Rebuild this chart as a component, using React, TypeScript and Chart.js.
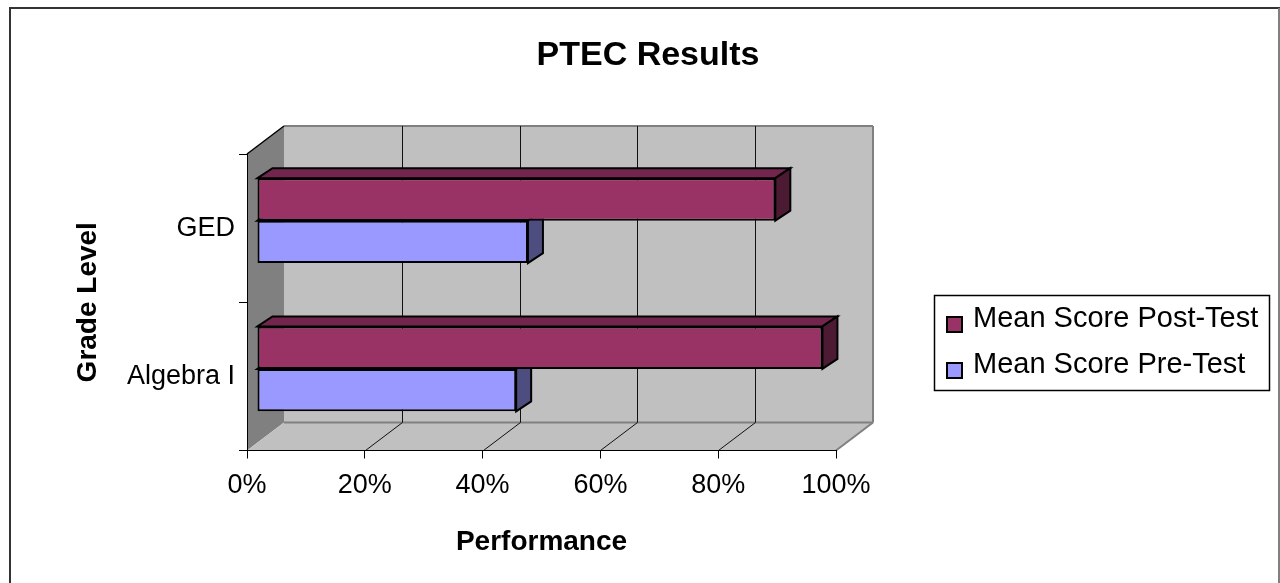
import React, { useEffect, useRef } from 'react';
import { Chart, registerables } from 'chart.js';

Chart.register(...registerables);

// ---------- data ----------
const categories = ['GED', 'Algebra I'];
const seriesLabels = ['Mean Score Post-Test', 'Mean Score Pre-Test'];
const postTestValues = [0.88, 0.96];
const preTestValues = [0.46, 0.44];
const xTickValues = [0, 0.2, 0.4, 0.6, 0.8, 1];
const xTickLabels = ['0%', '20%', '40%', '60%', '80%', '100%'];
const chartTitle = 'PTEC Results';
const xAxisTitle = 'Performance';
const yAxisTitle = 'Grade Level';

// ---------- styles ----------
const FONT = '"Liberation Sans", Arial, Helvetica, sans-serif';
const frontColors = ['#993366', '#9999ff'];
const topColors = ['#73264d', '#7373bf'];
const sideColors = ['#4d1a33', '#4d4d80'];
const WALL_D = { x: 37, y: -28 };
const BAR_OFF = { x: 10, y: -7.5 };
const BAR_D = { x: 15, y: -10 };

function poly(ctx: CanvasRenderingContext2D, pts: number[][], fill?: string, stroke?: string, lw = 1) {
  ctx.beginPath();
  ctx.moveTo(pts[0][0], pts[0][1]);
  for (let i = 1; i < pts.length; i++) ctx.lineTo(pts[i][0], pts[i][1]);
  ctx.closePath();
  if (fill) {
    ctx.fillStyle = fill;
    ctx.fill();
  }
  if (stroke) {
    ctx.strokeStyle = stroke;
    ctx.lineWidth = lw;
    ctx.lineJoin = 'miter';
    ctx.stroke();
  }
}

function line(ctx: CanvasRenderingContext2D, x1: number, y1: number, x2: number, y2: number) {
  ctx.beginPath();
  ctx.moveTo(x1, y1);
  ctx.lineTo(x2, y2);
  ctx.stroke();
}

const wallsPlugin = {
  id: 'walls3d',
  beforeDraw(chart: any) {
    const { ctx, chartArea } = chart;
    const { left, right, top, bottom } = chartArea;
    const xs = chart.scales.x;
    const dx = WALL_D.x;
    const dy = WALL_D.y;
    ctx.save();
    ctx.fillStyle = '#ffffff';
    ctx.fillRect(0, 0, chart.width, chart.height);
    // back wall
    ctx.fillStyle = '#c0c0c0';
    ctx.fillRect(left + dx, top + dy, right - left, bottom - top);
    // side wall
    poly(ctx, [[left, top], [left + dx, top + dy], [left + dx, bottom + dy], [left, bottom]], '#808080');
    // floor
    poly(ctx, [[left, bottom], [right, bottom], [right + dx, bottom + dy], [left + dx, bottom + dy]], '#c0c0c0');
    // gray edges
    ctx.strokeStyle = '#808080';
    ctx.lineWidth = 2;
    line(ctx, left + dx, top + dy, right + dx, top + dy);
    line(ctx, right + dx, top + dy, right + dx, bottom + dy);
    line(ctx, left + dx, bottom + dy, right + dx, bottom + dy);
    line(ctx, right, bottom, right + dx, bottom + dy);
    // grid lines on back wall and floor
    ctx.strokeStyle = '#111';
    ctx.lineWidth = 1;
    xTickValues.forEach((v) => {
      if (v === 0 || v === 1) return;
      const px = Math.round(xs.getPixelForValue(v)) + 0.5;
      line(ctx, px + dx, top + dy, px + dx, bottom + dy);
      line(ctx, px, bottom, px + dx, bottom + dy);
    });
    // side wall top edge
    ctx.strokeStyle = '#000';
    ctx.lineWidth = 1.5;
    line(ctx, left, top, left + dx, top + dy);
    ctx.restore();
  },
};

const bars3dPlugin = {
  id: 'bars3d',
  beforeDatasetsDraw(chart: any) {
    chart.ctx.save();
    chart.ctx.translate(BAR_OFF.x, BAR_OFF.y);
  },
  afterDatasetDraw(chart: any, args: any) {
    const ctx = chart.ctx;
    const idx = args.index;
    args.meta.data.forEach((bar: any) => {
      const { x, y, base, height } = bar.getProps(['x', 'y', 'base', 'height'], true);
      const l = Math.min(x, base);
      const r = Math.max(x, base);
      const t = y - height / 2;
      const b = y + height / 2;
      const dx = BAR_D.x;
      const dy = BAR_D.y;
      poly(ctx, [[l, t], [l + dx, t + dy], [r + dx, t + dy], [r, t]], topColors[idx], '#000', 2);
      poly(ctx, [[r, t], [r + dx, t + dy], [r + dx, b + dy], [r, b]], sideColors[idx], '#000', 2);
    });
  },
  afterDatasetsDraw(chart: any) {
    chart.ctx.restore();
  },
};

const legendFramePlugin = {
  id: 'legendFrame',
  afterDraw(chart: any) {
    const ctx = chart.ctx;
    ctx.save();
    // legend box
    ctx.strokeStyle = '#000';
    ctx.lineWidth = 1.5;
    ctx.strokeRect(934.5, 295.5, 335, 95);
    ctx.font = `29px ${FONT}`;
    ctx.textAlign = 'left';
    ctx.textBaseline = 'middle';
    chart.data.datasets.forEach((ds: any, i: number) => {
      const cy = 319 + i * 46;
      ctx.fillStyle = ds.backgroundColor;
      ctx.fillRect(947, cy - 2, 15, 15);
      ctx.strokeStyle = '#000';
      ctx.lineWidth = 2;
      ctx.strokeRect(947, cy - 2, 15, 15);
      ctx.fillStyle = '#000';
      ctx.fillText(ds.label, 973, cy);
    });
    // outer frame
    ctx.strokeStyle = '#333';
    ctx.lineWidth = 2;
    line(ctx, 10, 8, 10, 583);
    line(ctx, 9, 8, 1280, 8);
    ctx.strokeStyle = '#808080';
    line(ctx, 1279, 8, 1279, 583);
    ctx.restore();
  },
};

export default function App() {
  const canvasRef = useRef<HTMLCanvasElement | null>(null);

  useEffect(() => {
    if (!canvasRef.current) return;
    const chart = new Chart(canvasRef.current, {
      type: 'bar',
      data: {
        labels: categories,
        datasets: [
          {
            label: seriesLabels[0],
            data: postTestValues,
            backgroundColor: frontColors[0],
            borderColor: '#000',
            borderWidth: 2,
            borderSkipped: false,
            xAxisID: 'x',
            yAxisID: 'y',
          },
          {
            label: seriesLabels[1],
            data: preTestValues,
            backgroundColor: frontColors[1],
            borderColor: '#000',
            borderWidth: 2,
            borderSkipped: false,
            xAxisID: 'x',
            yAxisID: 'y',
          },
        ],
      },
      options: {
        indexAxis: 'y',
        responsive: false,
        animation: false,
        events: [],
        datasets: {
          bar: { barPercentage: 1, categoryPercentage: 0.573 },
        },
        layout: { padding: { left: 16, right: 0, top: 0, bottom: 0 } },
        plugins: {
          legend: { display: false },
          tooltip: { enabled: false },
          title: {
            display: true,
            text: chartTitle,
            color: '#000',
            font: { family: FONT, size: 34, weight: 'bold' },
            padding: { top: 35.6, bottom: 77.6 },
          },
        },
        scales: {
          x: {
            type: 'linear',
            position: 'bottom',
            min: 0,
            max: 1,
            afterBuildTicks: (s: any) => {
              s.ticks = xTickValues.map((v) => ({ value: v }));
            },
            ticks: {
              callback: (_v: any, i: number) => xTickLabels[i],
              color: '#000',
              font: { family: FONT, size: 27 },
              padding: 11,
              maxRotation: 0,
              autoSkip: false,
            },
            grid: { drawOnChartArea: false, drawTicks: true, tickLength: 8, color: '#000' },
            border: { display: true, color: '#000', width: 1 },
            title: {
              display: true,
              text: xAxisTitle,
              color: '#000',
              font: { family: FONT, size: 28, weight: 'bold' },
              padding: { top: 0, bottom: 24 },
            },
            afterFit: (s: any) => {
              s.height = 132.5;
            },
          },
          y: {
            type: 'category',
            position: 'left',
            ticks: { color: '#000', font: { family: FONT, size: 27 }, padding: 4 },
            grid: { drawOnChartArea: false, drawTicks: true, tickLength: 8, color: '#000', offset: true },
            border: { display: true, color: '#000', width: 1 },
            title: {
              display: true,
              text: yAxisTitle,
              color: '#000',
              font: { family: FONT, size: 28, weight: 'bold' },
              padding: { top: 55, bottom: 0 },
            },
            afterFit: (s: any) => {
              s.width = 231;
            },
          },
          spacer: {
            type: 'linear',
            position: 'right',
            display: true,
            grid: { display: false, drawTicks: false },
            ticks: { display: false },
            border: { display: false },
            afterFit: (s: any) => {
              s.width = 444;
            },
          },
        },
      } as any,
      plugins: [wallsPlugin, bars3dPlugin, legendFramePlugin],
    });
    return () => chart.destroy();
  }, []);

  return (
    <div style={{ position: 'absolute', left: 0, top: 0, width: 1280, height: 583, background: '#fff' }}>
      <canvas ref={canvasRef} width={1280} height={583} style={{ display: 'block', width: 1280, height: 583 }} />
    </div>
  );
}
